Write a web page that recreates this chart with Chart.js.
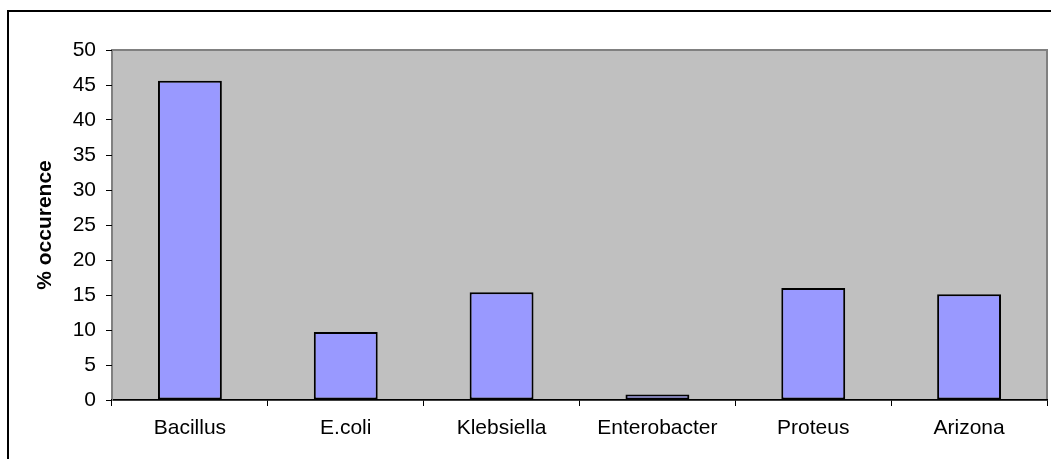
<!DOCTYPE html>
<html>
<head>
<meta charset="utf-8">
<script src="https://cdn.jsdelivr.net/npm/chart.js@4/dist/chart.umd.min.js"></script>
<style>
  html, body { margin: 0; padding: 0; background: #fff; overflow: hidden; }
  #wrap { position: relative; width: 1051px; height: 459px; }
</style>
</head>
<body>
<div id="wrap"><canvas id="c" width="1051" height="459"></canvas></div>
<script>
// Bacterial isolates and their percentage occurrence
const categories = ['Bacillus', 'E.coli', 'Klebsiella', 'Enterobacter', 'Proteus', 'Arizona'];
const occurrence = [45.6, 9.7, 15.4, 0.8, 16.0, 15.1];
const yMin = 0;
const yMax = 50;
const yStep = 5;

const FONT = "'Liberation Sans', Arial, Helvetica, sans-serif";

// White page with a frame line and the grey plot area behind the bars
const framePlugin = {
  id: 'framePlugin',
  beforeDraw(chart) {
    const { ctx, chartArea: a } = chart;
    ctx.save();
    ctx.fillStyle = '#ffffff';
    ctx.fillRect(0, 0, chart.width, chart.height);
    ctx.strokeStyle = '#000000';
    ctx.lineWidth = 2;
    ctx.beginPath();
    ctx.moveTo(8, chart.height + 5);
    ctx.lineTo(8, 11);
    ctx.lineTo(chart.width + 5, 11);
    ctx.stroke();
    ctx.fillStyle = '#C0C0C0';
    ctx.fillRect(a.left, a.top, a.right - a.left, a.bottom - a.top);
    ctx.strokeStyle = '#808080';
    ctx.lineWidth = 2;
    ctx.strokeRect(a.left, a.top, a.right - a.left, a.bottom - a.top);
    ctx.restore();
  }
};

new Chart(document.getElementById('c'), {
  type: 'bar',
  data: {
    labels: categories,
    datasets: [{
      data: occurrence,
      backgroundColor: '#9999FF',
      borderColor: '#000000',
      borderWidth: 2,
      borderSkipped: false,
      categoryPercentage: 1.0,
      barPercentage: 0.41
    }]
  },
  options: {
    responsive: false,
    animation: false,
    devicePixelRatio: 1,
    layout: { padding: { top: 50, right: 4, left: 0, bottom: 0 } },
    plugins: {
      legend: { display: false },
      tooltip: { enabled: false }
    },
    scales: {
      x: {
        grid: { offset: true, drawOnChartArea: false, tickLength: 6, tickColor: '#000000', tickWidth: 1 },
        border: { color: '#000000', width: 1.5 },
        ticks: { color: '#000000', font: { family: FONT, size: 21 }, padding: 10, maxRotation: 0 },
        afterFit(s) { s.height = 59; }
      },
      y: {
        min: yMin,
        max: yMax,
        grid: { drawOnChartArea: false, tickLength: 6, tickColor: '#000000', tickWidth: 1 },
        border: { color: '#808080', width: 1 },
        ticks: { stepSize: yStep, color: '#000000', font: { family: FONT, size: 21 }, padding: 10 },
        title: {
          display: true,
          text: '% occurence',
          color: '#000000',
          font: { family: FONT, size: 21, weight: 'bold' },
          padding: { top: 33, bottom: 0 }
        },
        afterFit(s) { s.width = 112; }
      }
    }
  },
  plugins: [framePlugin]
});
</script>
</body>
</html>
